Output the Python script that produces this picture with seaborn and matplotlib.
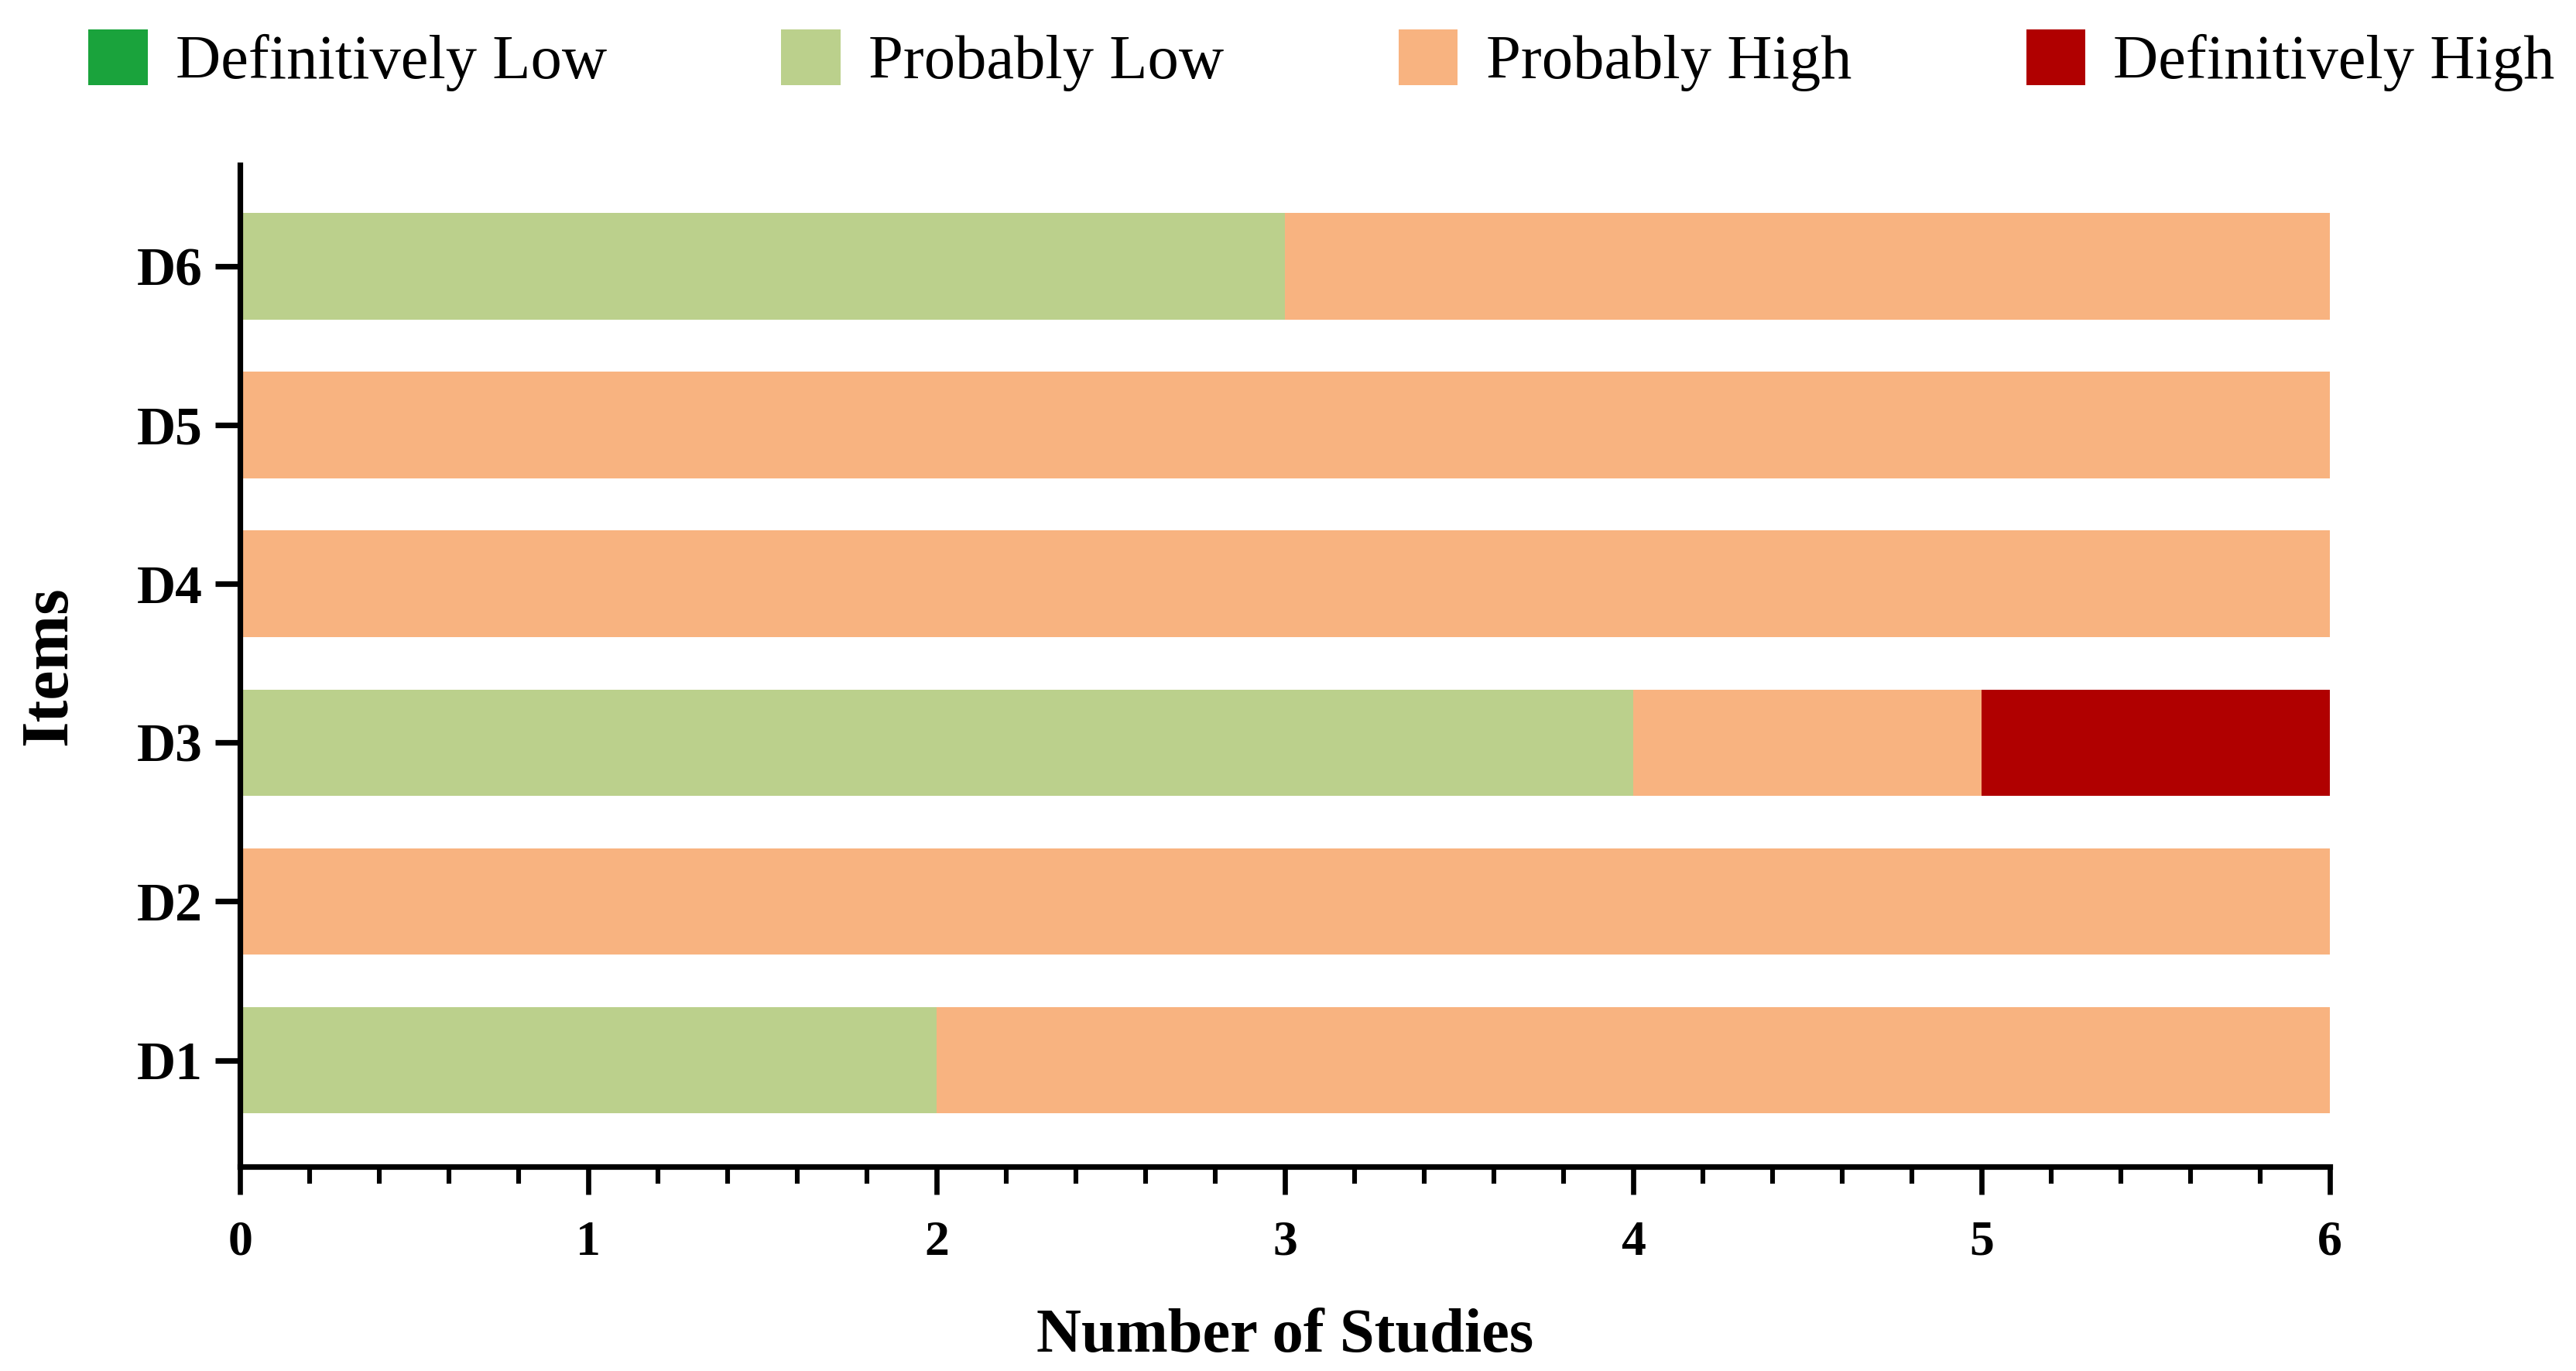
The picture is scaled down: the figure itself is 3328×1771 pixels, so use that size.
import seaborn as sns
import pandas as pd
import matplotlib.pyplot as plt
from matplotlib.patches import Patch
from matplotlib.ticker import MultipleLocator

# Risk of bias counts per item
items = ['D6', 'D5', 'D4', 'D3', 'D2', 'D1']
definitively_low = [0, 0, 0, 0, 0, 0]
probably_low = [3, 0, 0, 4, 0, 2]
probably_high = [3, 6, 6, 1, 6, 4]
definitively_high = [0, 0, 0, 1, 0, 0]

categories = ['Definitively Low', 'Probably Low', 'Probably High', 'Definitively High']
colors = ['#1aa33c', '#bbd08c', '#f8b380', '#b00000']

df = pd.DataFrame({
    'item': items,
    'Definitively Low': definitively_low,
    'Probably Low': probably_low,
    'Probably High': probably_high,
    'Definitively High': definitively_high,
})

# Cumulative sums so the stacked bars can be drawn back to front
cum = df[categories].cumsum(axis=1)
cum['item'] = df['item']

sns.set_style('white')
plt.rcParams['font.family'] = ['Liberation Serif', 'DejaVu Serif']
plt.rcParams.update({'text.color': 'black', 'axes.labelcolor': 'black',
                     'xtick.color': 'black', 'ytick.color': 'black'})

fig = plt.figure(figsize=(16.64, 8.855), dpi=200)
ax = fig.add_axes([0.0932, 0.149, 0.8113, 0.731])

for cat, col in reversed(list(zip(categories, colors))):
    sns.barplot(data=cum, x=cat, y='item', order=items, color=col,
                width=0.67, saturation=1, linewidth=0, ax=ax)

ax.set_xlim(0, 6)
ax.set_ylim(5.67, -0.64)
ax.xaxis.set_major_locator(MultipleLocator(1))
ax.xaxis.set_minor_locator(MultipleLocator(0.2))

for side in ['top', 'right']:
    ax.spines[side].set_visible(False)
for side in ['left', 'bottom']:
    ax.spines[side].set_linewidth(2.6)
    ax.spines[side].set_color('black')

ax.tick_params(axis='x', which='major', direction='out', length=13, width=2.4,
               pad=12, labelsize=23, bottom=True, colors='black')
ax.tick_params(axis='x', which='minor', direction='out', length=8, width=2.2,
               bottom=True, colors='black')
ax.tick_params(axis='y', which='major', direction='out', length=11.5, width=2.6,
               pad=6, labelsize=25, left=True, colors='black')
for lab in ax.get_xticklabels() + ax.get_yticklabels():
    lab.set_fontweight('bold')

ax.set_xlabel('Number of Studies', fontsize=29, fontweight='bold', labelpad=20)
ax.set_ylabel('Items', fontsize=31, fontweight='bold', labelpad=26)

handles = [Patch(facecolor=c, edgecolor='none', label=l) for l, c in zip(categories, colors)]
fig.legend(handles=handles, loc='center', bbox_to_anchor=(0.513, 0.956), ncol=4,
           frameon=False, prop={'family': 'Liberation Serif', 'size': 29},
           handlelength=0.95, handleheight=1.0, handletextpad=0.45,
           columnspacing=2.8, labelcolor='black')

fig.savefig('out.png', dpi=200)
